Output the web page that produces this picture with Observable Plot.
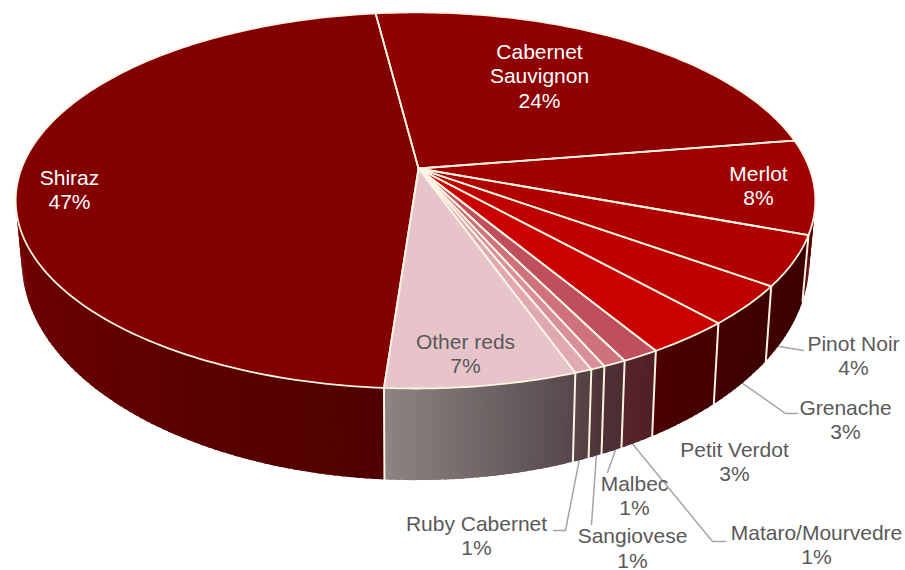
<!DOCTYPE html>
<html>
<head>
<meta charset="utf-8">
<style>html,body{margin:0;padding:0;background:#fff}svg{display:block}</style>
<script src="https://cdn.jsdelivr.net/npm/d3@7"></script>
<script src="https://cdn.jsdelivr.net/npm/@observablehq/plot@0.6"></script>
</head>
<body>
<script>
// Data, clockwise from the top
const varieties = ["Cabernet Sauvignon","Merlot","Pinot Noir","Grenache","Petit Verdot","Mataro/Mourvedre","Malbec","Sangiovese","Ruby Cabernet","Other reds","Shiraz"];
const shares = [24.4,8.1,4.3,3.4,3.0,1.3,0.8,0.5,0.6,6.6,47.1];
const printed = ["24%","8%","4%","3%","3%","1%","1%","1%","1%","7%","47%"];
const labelNames = ["Cabernet\nSauvignon","Merlot","Pinot Noir","Grenache","Petit Verdot","Mataro/Mourvedre","Malbec","Sangiovese","Ruby Cabernet","Other reds","Shiraz"];

// Styles
const topColors = ["#8f0000","#a00000","#b00000","#bf0000","#cb0000","#c04f5c","#cf727e","#d98f99","#e0a9b1","#e7c4c9","#820000"];
const wallLeft  = ["#5a0000","#5a0000","#400000","#440000","#4c0000","#58242b","#4f3034","#52383b","#5a4648","#8f8484","#7c0000"];
const wallRight = ["#5a0000","#4a0000","#3c0000","#3c0000","#440000","#4f2027","#4a2c31","#4a3236","#544042","#55474a","#4f0000"];
const rim = "#fdf3e3";

// Layout of the labels and leaders
const labelPos = [[539,75],[758,184.5],[853,354.5],[845,418.5],[734,460.5],[816,543.5],[634,494.5],[632,547],[476,534.5],[465,352.5],[69,188.5]];
const labelFill = ["#fff","#fff","#595959","#595959","#595959","#595959","#595959","#595959","#595959","#595959","#fff"];
const leaders = [
  {i:2, frac:.75, via:[[803,350]]},
  {i:3, frac:.5,  via:[[785,413],[797,413]]},
  {i:5, frac:.65, via:[[712,541],[725,541]]},
  {i:6, frac:.3,  via:[[607,472]]},
  {i:7, frac:.4,  via:[[591,524]]},
  {i:8, frac:.6,  via:[[565,530],[553,530]]}
];

// Perspective pie: a circle on each face, projected
const topFace = {cx:415, cy:168, A:394, B:182.6, k:-.17};
const baseFace = {cx:415, cy:223, A:388, B:213, k:-.17};
const apex = [418,168];
const startAngle = -6.8 * Math.PI/180;
function project(f,t){
  const c = Math.sin(t), s = -Math.cos(t), w = 1 + f.k*s;
  return [f.cx + f.A*c/w, f.cy + f.B*s/w];
}
const total = d3.sum(shares);
const cum = d3.cumsum(shares);
const bounds = [startAngle, ...Array.from(cum, v => startAngle + v/total*2*Math.PI)];
const arcAngles = (a,b) => {
  const n = Math.max(2, Math.ceil((b-a)/(Math.PI/180)));
  return d3.range(n+1).map(j => a + (b-a)*j/n);
};

const wallPolys = [], topPolys = [], rimLines = [], wallEdges = [], leaderLines = [];
varieties.forEach((name,i) => {
  const a = bounds[i], b = bounds[i+1];
  const pts = [apex, ...arcAngles(a,b).map(t => project(topFace,t)), apex];
  pts.forEach(p => topPolys.push({id:name, x:p[0], y:p[1], color:topColors[i]}));
  pts.forEach(p => rimLines.push({id:name, x:p[0], y:p[1]}));
  const sideA = Math.max(a, Math.PI*.42), sideB = Math.min(b, Math.PI*1.55);
  if (sideB > sideA) {
    const n = Math.max(2, Math.ceil((sideB-sideA)/(Math.PI/180)));
    const step = (sideB-sideA)/n;
    const mix = d3.interpolateRgb(wallRight[i], wallLeft[i]);
    for (let j=0;j<n;j++){
      const t0 = sideA+step*j, t1 = Math.min(sideB, sideA+step*(j+1.6));
      const col = mix((j+.5)/n);
      [project(topFace,t0),project(topFace,t1),project(baseFace,t1),project(baseFace,t0),project(topFace,t0)]
        .forEach(p => wallPolys.push({id:name+j, x:p[0], y:p[1], color:col}));
    }
  }
  if (a > Math.PI*.5 && a < Math.PI*1.5) {
    [project(topFace,a),project(baseFace,a)].forEach(p => wallEdges.push({id:name, x:p[0], y:p[1]}));
  }
});
leaders.forEach(l => {
  const t = bounds[l.i] + (bounds[l.i+1]-bounds[l.i])*l.frac;
  [project(baseFace,t), ...l.via].forEach(p => leaderLines.push({id:l.i, x:p[0], y:p[1]}));
});
const labels = varieties.map((name,i) => ({
  text: labelNames[i] + "\n" + printed[i], x: labelPos[i][0], y: labelPos[i][1], fill: labelFill[i]
}));

const chart = Plot.plot({
  width:905, height:570, margin:0,
  x:{domain:[0,905], range:[0,905], axis:null},
  y:{domain:[0,570], range:[0,570], axis:null},
  color:{type:"identity"},
  style:{background:"#fff"},
  marks:[
    Plot.line(leaderLines,{x:"x",y:"y",z:"id",stroke:"#a6a6a6",strokeWidth:1.5,curve:"linear"}),
    Plot.line(wallPolys,{x:"x",y:"y",z:"id",fill:"color",stroke:"none",curve:"linear"}),
    Plot.line(wallEdges,{x:"x",y:"y",z:"id",stroke:rim,strokeWidth:2,curve:"linear"}),
    Plot.line(topPolys,{x:"x",y:"y",z:"id",fill:"color",stroke:"none",curve:"linear"}),
    Plot.line(rimLines,{x:"x",y:"y",z:"id",stroke:rim,strokeWidth:1.8,strokeLinejoin:"round",curve:"linear"}),
    Plot.text(labels,{x:"x",y:"y",text:"text",fill:"fill",fontSize:21,lineHeight:1.17,textAnchor:"middle",fontFamily:"Liberation Sans, Arial, sans-serif"})
  ]
});
document.body.appendChild(chart);
</script>
</body>
</html>
